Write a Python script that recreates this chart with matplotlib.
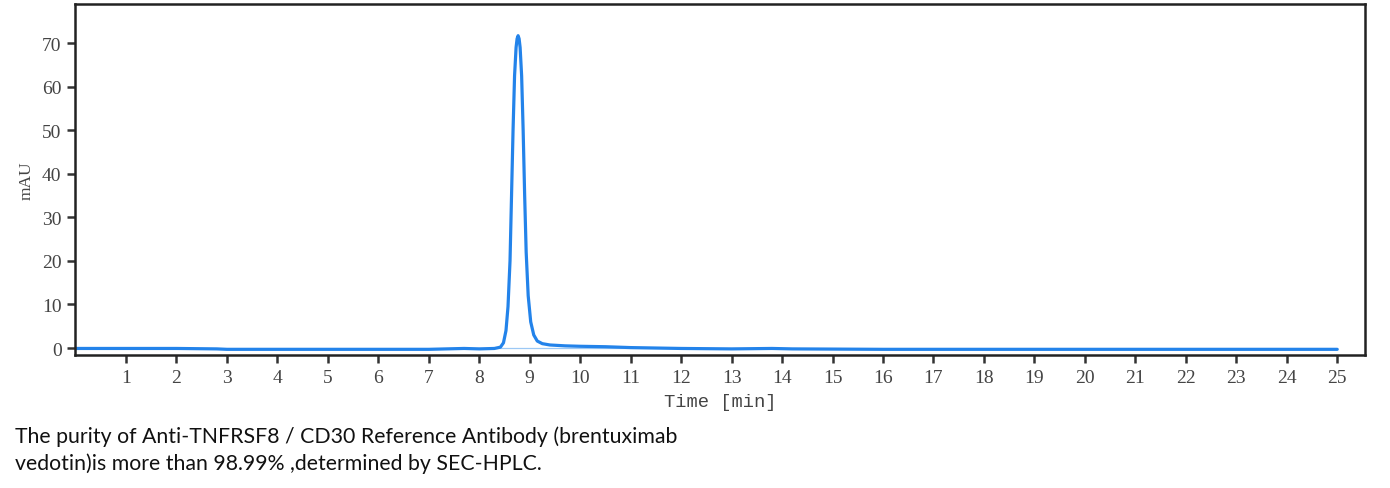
import matplotlib
matplotlib.use("Agg")
import matplotlib.pyplot as plt

# chromatogram (time in min, absorbance in mAU)
time_min = [0.0, 1.0, 2.0, 2.8, 3.0, 5.0, 7.0, 7.7, 8.0, 8.3, 8.42, 8.48, 8.53,
            8.57, 8.61, 8.64, 8.67, 8.70, 8.73, 8.75, 8.77, 8.79, 8.81, 8.84,
            8.87, 8.90, 8.93, 8.97, 9.02, 9.08, 9.15, 9.25, 9.4, 9.7, 10.0,
            10.5, 11.0, 12.0, 13.0, 13.8, 14.2, 16.0, 20.0, 25.0]
mau = [-0.1, -0.1, -0.1, -0.2, -0.3, -0.3, -0.3, -0.1, -0.2, -0.1, 0.2, 1.2, 4.0,
       9.5, 20.0, 35.0, 50.0, 62.5, 69.0, 71.0, 71.7, 71.0, 69.0, 62.5,
       50.0, 35.0, 22.0, 12.0, 6.0, 3.0, 1.6, 1.0, 0.7, 0.5, 0.4,
       0.3, 0.1, -0.1, -0.2, -0.1, -0.2, -0.3, -0.3, -0.3]
baseline_t = [7.8, 12.0]
baseline_y = [0.0, 0.0]

x_ticks = list(range(1, 26))
y_ticks = [0, 10, 20, 30, 40, 50, 60, 70]

caption = ("The purity of Anti-TNFRSF8 / CD30 Reference Antibody (brentuximab\n"
           "vedotin)is more than 98.99% ,determined by SEC-HPLC.")

fig = plt.figure(figsize=(13.9, 4.89), dpi=100)
ax = fig.add_axes([0.0543, 0.272, 0.9277, 0.718])

ax.plot(baseline_t, baseline_y, color="#9cc8f5", lw=0.9)
ax.plot(time_min, mau, color="#2383ea", lw=2.3, solid_joinstyle="round",
        solid_capstyle="round")

ax.set_xlim(0, 25.55)
ax.set_ylim(-1.6, 79)
ax.set_xticks(x_ticks)
ax.set_yticks(y_ticks)

for s in ax.spines.values():
    s.set_linewidth(1.8)
    s.set_color("#222222")

ax.tick_params(direction="out", length=6, width=1.8, color="#333333",
               labelsize=14, labelcolor="#444444", pad=4)
for lab in ax.get_xticklabels() + ax.get_yticklabels():
    lab.set_family("Liberation Serif")

ax.set_xlabel("Time [min]", family="Liberation Mono", fontsize=13.5,
              color="#444444", labelpad=5)
ax.set_ylabel("mAU", family="Liberation Serif", fontsize=12.5,
              color="#444444", labelpad=5)

fig.text(0.011, 0.03, caption, family="Lato", fontsize=15.3,
         color="#111111", ha="left", va="bottom", linespacing=1.38)

fig.savefig("out.png", dpi=100)
